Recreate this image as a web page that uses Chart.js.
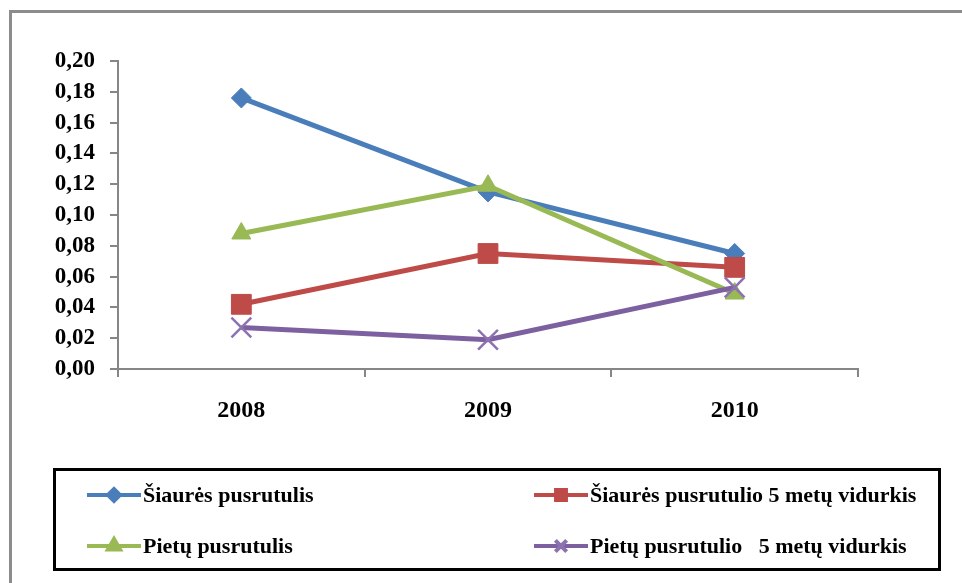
<!DOCTYPE html>
<html>
<head>
<meta charset="utf-8">
<script src="https://cdn.jsdelivr.net/npm/chart.js@4/dist/chart.umd.min.js"></script>
<style>
  html, body { margin: 0; padding: 0; background: #fff; }
  #wrap { width: 962px; height: 583px; }
</style>
</head>
<body>
<div id="wrap"><canvas id="myChart" width="962" height="583"></canvas></div>
<script>
"use strict";

// Duomenys
const years = ["2008", "2009", "2010"];
const siaures = [0.176, 0.115, 0.075];
const siauresVidurkis = [0.042, 0.075, 0.066];
const pietu = [0.088, 0.119, 0.049];
const pietuVidurkis = [0.027, 0.019, 0.053];
const yMin = 0;
const yMax = 0.20;
const yStep = 0.02;

const serif = "'Liberation Serif', 'Times New Roman', serif";

// Pilkas rėmelis aplink diagramą
const framePlugin = {
    id: "frame",
    beforeDraw(chart) {
        const ctx = chart.ctx;
        ctx.save();
        ctx.strokeStyle = "#8c8c8c";
        ctx.lineWidth = 3;
        ctx.strokeRect(10.5, 11.5, 1200, 1200);
        ctx.restore();
    }
};

// Legenda dviem stulpeliais, juodame rėmelyje
const boxLegend = {
    id: "boxLegend",
    afterDraw(chart) {
        const ctx = chart.ctx;
        ctx.save();
        ctx.strokeStyle = "#000";
        ctx.lineWidth = 3;
        ctx.strokeRect(54.5, 469.5, 885, 100);

        const cols = [87, 534];
        const rows = [495, 546];
        const markerSizes = [6, 7, 7, 8];
        ctx.font = "bold 22px " + serif;
        ctx.textBaseline = "middle";
        ctx.fillStyle = "#000";
        chart.data.datasets.forEach((ds, i) => {
            const x = cols[i % 2];
            const y = rows[Math.floor(i / 2)];
            ctx.strokeStyle = ds.borderColor;
            ctx.lineWidth = 4;
            ctx.beginPath();
            ctx.moveTo(x, y);
            ctx.lineTo(x + 54, y);
            ctx.stroke();
            ctx.fillStyle = ds.pointBackgroundColor;
            ctx.strokeStyle = ds.pointBorderColor;
            Chart.helpers.drawPoint(ctx, {
                pointStyle: ds.pointStyle,
                radius: markerSizes[i],
                rotation: 0,
                borderWidth: ds.pointBorderWidth
            }, x + 27, y);
            ctx.fillStyle = "#000";
            ctx.fillText(ds.label, x + 56, y + 1);
        });
        ctx.restore();
    }
};

const ctx = document.getElementById("myChart");

new Chart(ctx, {
    type: "line",
    data: {
        labels: years,
        datasets: [
            {
                label: "Šiaurės pusrutulis",
                data: siaures,
                borderColor: "#4a7ebb",
                pointBackgroundColor: "#4a7ebb",
                pointBorderColor: "#4a7ebb",
                pointStyle: "rectRot",
                pointRadius: 10,
                pointBorderWidth: 1,
                borderWidth: 5,
                order: 4
            },
            {
                label: "Šiaurės pusrutulio 5 metų vidurkis",
                data: siauresVidurkis,
                borderColor: "#be4b48",
                pointBackgroundColor: "#be4b48",
                pointBorderColor: "#be4b48",
                pointStyle: "rect",
                pointRadius: 14,
                pointBorderWidth: 1,
                borderWidth: 5,
                order: 3
            },
            {
                label: "Pietų pusrutulis",
                data: pietu,
                borderColor: "#98b954",
                pointBackgroundColor: "#98b954",
                pointBorderColor: "#98b954",
                pointStyle: "triangle",
                pointRadius: 11,
                pointBorderWidth: 1,
                borderWidth: 5,
                order: 2
            },
            {
                label: "Pietų pusrutulio   5 metų vidurkis",
                data: pietuVidurkis,
                borderColor: "#7d60a0",
                pointBackgroundColor: "#7d60a0",
                pointBorderColor: "#8d72b0",
                pointStyle: "crossRot",
                pointRadius: 14,
                pointBorderWidth: 2.5,
                borderWidth: 5,
                order: 1
            }
        ]
    },
    options: {
        responsive: false,
        animation: false,
        layout: {
            padding: { left: 0, top: 61, right: 104, bottom: 154 }
        },
        plugins: {
            legend: { display: false },
            tooltip: { enabled: false }
        },
        scales: {
            x: {
                offset: true,
                grid: {
                    offset: true,
                    drawOnChartArea: false,
                    drawTicks: true,
                    tickLength: 8,
                    color: "#868686",
                    lineWidth: 2
                },
                border: { color: "#868686", width: 2 },
                ticks: {
                    color: "#000",
                    font: { family: serif, weight: "bold", size: 24 },
                    padding: 19,
                    maxRotation: 0
                },
                afterFit(scale) { scale.height = 60; }
            },
            y: {
                min: yMin,
                max: yMax,
                grid: {
                    drawOnChartArea: false,
                    tickLength: 8,
                    color: "#868686",
                    lineWidth: 2
                },
                border: { color: "#868686", width: 2 },
                ticks: {
                    stepSize: yStep,
                    autoSkip: false,
                    color: "#000",
                    font: { family: serif, weight: "bold", size: 23 },
                    padding: 15,
                    callback: (v) => Number(v).toFixed(2).replace(".", ",")
                },
                afterFit(scale) { scale.width = 118; }
            }
        }
    },
    plugins: [framePlugin, boxLegend]
});
</script>
</body>
</html>
